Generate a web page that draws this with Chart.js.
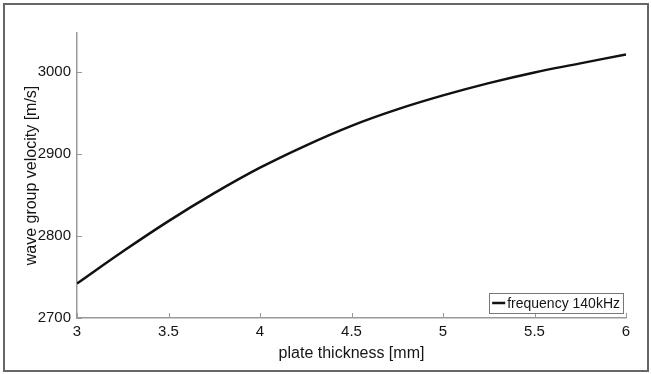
<!DOCTYPE html>
<html><head><meta charset="utf-8">
<script src="https://cdn.jsdelivr.net/npm/chart.js@4.4.0/dist/chart.umd.min.js"></script>
<style>html,body{margin:0;padding:0;background:#fff;} #wrap{width:651px;height:374px;position:relative;}</style>
</head><body><div id="wrap"><canvas id="c" width="651" height="374"></canvas></div>
<script>
const thickness = [3.0, 3.25, 3.5, 3.75, 4.0, 4.25, 4.5, 4.75, 5.0, 5.25, 5.5, 5.75, 6.0];
const groupVelocity = [2742, 2781, 2818, 2852, 2883, 2910, 2934, 2954, 2971, 2986, 2999, 3010, 3021];
const xTickValues = [3, 3.5, 4, 4.5, 5, 5.5, 6];
const yTickValues = [2700, 2800, 2900, 3000];
const seriesLabel = 'frequency 140kHz';
const xTitle = 'plate thickness [mm]';
const yTitle = 'wave group velocity [m/s]';

const FONT = '"Liberation Sans", Arial, sans-serif';
const TXT = '#151515';
const AXIS = '#999';

const framePlugin = {
  id: 'frame',
  beforeDraw(chart) {
    const ctx = chart.ctx;
    ctx.save();
    ctx.fillStyle = '#fff';
    ctx.fillRect(0, 0, chart.width, chart.height);
    ctx.strokeStyle = '#666';
    ctx.lineWidth = 2;
    ctx.strokeRect(4, 4, chart.width - 7, chart.height - 7);
    ctx.restore();
  }
};

const inwardTicks = {
  id: 'inwardTicks',
  afterDatasetsDraw(chart) {
    const {ctx, scales: {x, y}, chartArea} = chart;
    ctx.save();
    ctx.strokeStyle = AXIS;
    ctx.lineWidth = 1;
    x.ticks.forEach(t => {
      const px = Math.round(x.getPixelForValue(t.value)) + 0.5;
      ctx.beginPath(); ctx.moveTo(px, chartArea.bottom); ctx.lineTo(px, chartArea.bottom - 5); ctx.stroke();
    });
    y.ticks.forEach(t => {
      const py = Math.round(y.getPixelForValue(t.value)) + 0.5;
      ctx.beginPath(); ctx.moveTo(chartArea.left, py); ctx.lineTo(chartArea.left + 5, py); ctx.stroke();
    });
    ctx.restore();
  }
};

const boxLegend = {
  id: 'boxLegend',
  afterDraw(chart) {
    const {ctx, chartArea} = chart;
    const ds = chart.data.datasets[0];
    ctx.save();
    ctx.font = '14px ' + FONT;
    const tw = ctx.measureText(ds.label).width;
    const h = 20, sample = 13, gap = 2, padL = 3, padR = 3;
    const w = padL + sample + gap + tw + padR;
    const right = chartArea.right - 3, bottom = chartArea.bottom - 5;
    const left = right - w, top = bottom - h;
    ctx.fillStyle = '#fff';
    ctx.fillRect(left, top, w, h);
    ctx.strokeStyle = '#777';
    ctx.lineWidth = 1;
    ctx.strokeRect(Math.round(left) + 0.5, Math.round(top) + 0.5, Math.round(w), h);
    const my = top + h / 2;
    ctx.strokeStyle = ds.borderColor;
    ctx.lineWidth = 2.5;
    ctx.beginPath(); ctx.moveTo(left + padL, my); ctx.lineTo(left + padL + sample, my); ctx.stroke();
    ctx.fillStyle = TXT;
    ctx.textBaseline = 'middle';
    ctx.textAlign = 'left';
    ctx.fillText(ds.label, left + padL + sample + gap, my + 1);
    ctx.restore();
  }
};

new Chart(document.getElementById('c'), {
  type: 'line',
  data: {
    datasets: [{
      label: seriesLabel,
      data: thickness.map((t, i) => ({x: t, y: groupVelocity[i]})),
      borderColor: '#111',
      borderWidth: 2.5,
      pointRadius: 0,
      fill: false,
      tension: 0.4
    }]
  },
  options: {
    responsive: false,
    animation: false,
    devicePixelRatio: 1,
    layout: {padding: {top: 33, right: 25, left: 0, bottom: 0}},
    plugins: {legend: {display: false}, tooltip: {enabled: false}},
    scales: {
      x: {
        type: 'linear', min: 3, max: 6,
        afterBuildTicks: s => { s.ticks = xTickValues.map(v => ({value: v})); },
        afterFit: s => { s.height = 56; },
        grid: {display: true, drawOnChartArea: false, drawTicks: false},
        border: {display: true, color: AXIS, width: 1.5},
        ticks: {autoSkip: false, maxRotation: 0, padding: 5, color: TXT,
                font: {family: FONT, size: 15}, callback: v => String(v)},
        title: {display: true, text: xTitle, color: TXT, font: {family: FONT, size: 16}, padding: {top: 2, bottom: 11}}
      },
      y: {
        type: 'linear', min: 2700, max: 3047,
        afterBuildTicks: s => { s.ticks = yTickValues.map(v => ({value: v})); },
        afterFit: s => { s.width = 77; },
        grid: {display: true, drawOnChartArea: false, drawTicks: false},
        border: {display: true, color: AXIS, width: 1.5},
        ticks: {autoSkip: false, padding: 6, color: TXT,
                font: {family: FONT, size: 15}, callback: v => String(v)},
        title: {display: true, text: yTitle, color: TXT, font: {family: FONT, size: 16}, padding: {top: 22, bottom: 0}}
      }
    }
  },
  plugins: [framePlugin, inwardTicks, boxLegend]
});
</script>
</body></html>
